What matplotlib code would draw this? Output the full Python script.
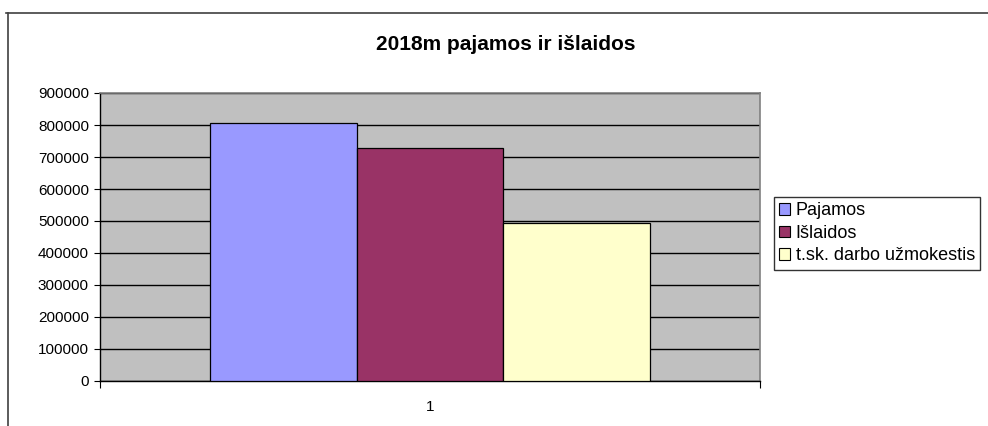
import numpy as np
import matplotlib.pyplot as plt
from matplotlib.lines import Line2D
from matplotlib.patches import Patch

plt.rcParams['font.family'] = ['Liberation Sans', 'DejaVu Sans']

# data
series = ['Pajamos', 'Išlaidos', 't.sk. darbo užmokestis']
values = [807000, 728000, 493000]
colors = ['#9999ff', '#993366', '#ffffcc']
category = ['1']

fig = plt.figure(figsize=(9.88, 4.26), dpi=100)
ax = fig.add_axes([100 / 988, 1 - 381 / 426, 660 / 988, 288 / 426])

# excel style clustered columns, gap width 150%
width = 1 / 4.5
x0 = np.arange(len(category))
for i, (name, val, col) in enumerate(zip(series, values, colors)):
    ax.bar(x0 + (i - 1) * width, [val], width=width, color=col,
           edgecolor='black', linewidth=0.9, label=name, zorder=3)

ax.set_facecolor('#c0c0c0')
ax.set_xlim(-0.5, 0.5)
ax.set_ylim(0, 900000)
ax.set_yticks(np.arange(0, 900001, 100000))
ax.set_yticklabels([str(v) for v in range(0, 900001, 100000)])
ax.yaxis.grid(True, color='black', linewidth=1.0, zorder=1)
ax.set_axisbelow(True)
ax.tick_params(axis='y', length=4, width=0.8, labelsize=11, pad=4)

ax.set_xticks([-0.5, 0.5], minor=False)
ax.set_xticklabels(['', ''])
ax.tick_params(axis='x', length=5, width=0.8, direction='out')
ax.text(0, -0.065, category[0], transform=ax.get_xaxis_transform(),
        ha='center', va='top', fontsize=11)

for side in ['top', 'right']:
    ax.spines[side].set_color('#808080')
    ax.spines[side].set_linewidth(1.2)
for side in ['left', 'bottom']:
    ax.spines[side].set_color('black')
    ax.spines[side].set_linewidth(1.0)

fig.text(506 / 988, 1 - 45 / 426, '2018m pajamos ir išlaidos',
         ha='center', va='center', fontsize=15, fontweight='bold')

handles = [Patch(facecolor=c, edgecolor='black', linewidth=0.8) for c in colors]
leg = fig.legend(handles, series, loc='upper left',
                 bbox_to_anchor=(774 / 988, 1 - 197 / 426),
                 fontsize=13, frameon=True, fancybox=False,
                 handlelength=0.6, handleheight=0.6, handletextpad=0.3,
                 labelspacing=0.3, borderpad=0.3, borderaxespad=0)
leg.get_frame().set_edgecolor('black')
leg.get_frame().set_linewidth(1.0)

# outer chart border (cropped at right and bottom)
fig.add_artist(Line2D([6 / 988, 1.0], [1 - 13 / 426, 1 - 13 / 426],
                      transform=fig.transFigure, color='#404040', linewidth=1.2))
fig.add_artist(Line2D([8 / 988, 8 / 988], [0, 1 - 13 / 426],
                      transform=fig.transFigure, color='#404040', linewidth=1.2))

plt.savefig('out.png', dpi=100)
